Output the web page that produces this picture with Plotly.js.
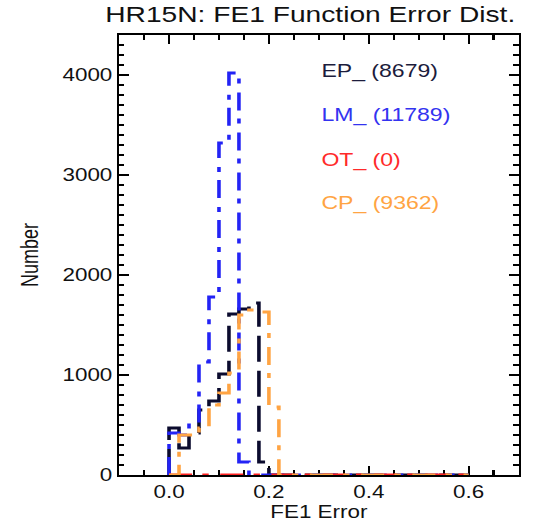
<!DOCTYPE html>
<html>
<head>
<meta charset="utf-8">
<script src="https://cdn.plot.ly/plotly-3.0.1.min.js"></script>
<style>
  html, body { margin: 0; padding: 0; background: #fff; overflow: hidden; }
  #wrap { width: 557px; height: 527px; overflow: hidden; }
  #chart { width: 435px; height: 527px; transform: scaleX(1.2805); transform-origin: 0 0; }
</style>
</head>
<body>
<div id="wrap"><div id="chart"></div></div>
<script>
// Bin edges (FE1 Error), bin width 0.02
const binEdges = [0.00,0.02,0.04,0.06,0.08,0.10,0.12,0.14,0.16,0.18,0.20,0.22,0.24,0.26,0.28,0.30,
                  0.32,0.34,0.36,0.38,0.40,0.42,0.44,0.46,0.48,0.50,0.52,0.54,0.56,0.58,0.60];
// Counts per bin (30 bins)
const epCounts = [470,270,420,650,740,1010,1610,1660,1720,130,0,0,0,0,0,0,0,0,0,0,0,0,0,0,0,0,0,0,0,0];
const lmCounts = [420,400,540,1130,1780,3320,4020,130,0,0,0,0,0,0,0,0,0,0,0,0,0,0,0,0,0,0,0,0,0,0];
const otCounts = [0,0,0,0,0,0,0,0,0,0,0,0,0,0,0,0,0,0,0,0,0,0,0,0,0,0,0,0,0,0];
const cpCounts = [0,400,400,470,700,820,1020,1600,1650,1630,680,0,0,0,0,0,0,0,0,0,0,0,0,0,0,0,0,0,0,0];

const seriesNames = ['EP_ (8679)', 'LM_ (11789)', 'OT_ (0)', 'CP_ (9362)'];
const xTickVals = [0.0, 0.2, 0.4, 0.6];
const xTickText = ['0.0', '0.2', '0.4', '0.6'];

const lineColors = ['#0b0b2e', '#2323f5', '#ff2222', '#ffa443'];
const textColors = ['#1c1c3c', '#3333f0', '#ff2a2a', '#ffa443'];
const dashes = ['26px,9px', '18px,8px,5px,9px', '18px,8px,5px,9px', '18px,8px,5px,9px'];
const allCounts = [epCounts, lmCounts, otCounts, cpCounts];

function stepTrace(counts, color, dash, name) {
  const xs = [binEdges[0]];
  const ys = [0];
  for (let i = 0; i < counts.length; i++) {
    xs.push(binEdges[i]);
    ys.push(counts[i]);
  }
  xs.push(binEdges[binEdges.length - 1]);
  ys.push(counts[counts.length - 1]);
  return {
    x: xs, y: ys, type: 'scatter', mode: 'lines', name: name,
    line: { shape: 'hv', color: color, width: 2.8, dash: dash },
    hoverinfo: 'skip', showlegend: false
  };
}

const traces = allCounts.map((c, i) => stepTrace(c, lineColors[i], dashes[i], seriesNames[i]));

const font = 'Liberation Sans, Arial, Helvetica, sans-serif';
const legendY = [0.917, 0.818, 0.715, 0.617];
const annotations = seriesNames.map((n, i) => ({
  text: n, xref: 'paper', yref: 'paper', x: 0.499, y: legendY[i],
  xanchor: 'left', yanchor: 'middle', showarrow: false,
  font: { family: font, size: 18, color: textColors[i] }
}));

const layout = {
  width: 435, height: 527,
  margin: { l: 93, r: 30, t: 35, b: 52 },
  paper_bgcolor: '#fff', plot_bgcolor: '#fff',
  title: { text: 'HR15N: FE1 Function Error Dist.', font: { family: font, size: 22, color: '#111' },
           x: 0.557, xref: 'container', xanchor: 'center', y: 0.972, yref: 'container', yanchor: 'middle' },
  xaxis: {
    range: [-0.1, 0.7], tickvals: xTickVals, ticktext: xTickText,
    ticks: 'inside', ticklen: 9, tickwidth: 1.8, tickcolor: '#000',
    minor: { dtick: 0.05, tick0: 0, ticks: 'inside', ticklen: 5, tickwidth: 1.8, tickcolor: '#000' },
    showline: true, linecolor: '#000', linewidth: 2, mirror: 'allticks',
    showgrid: false, zeroline: false, layer: 'below traces',
    tickfont: { family: font, size: 17.5, color: '#111' },
    title: { text: 'FE1 Error', font: { family: font, size: 17.5, color: '#111' }, standoff: 5 }
  },
  yaxis: {
    range: [0, 4400], dtick: 1000, tick0: 0,
    ticks: 'inside', ticklen: 7.8, tickwidth: 2, tickcolor: '#000',
    minor: { dtick: 100, tick0: 0, ticks: 'inside', ticklen: 4, tickwidth: 2, tickcolor: '#000' },
    showline: true, linecolor: '#000', linewidth: 1.8, mirror: 'allticks',
    showgrid: false, zeroline: false, layer: 'below traces',
    tickfont: { family: font, size: 17.5, color: '#111' },
    title: { text: 'Number', font: { family: font, size: 18, color: '#111' }, standoff: 14 }
  },
  annotations: annotations,
  showlegend: false
};

Plotly.newPlot('chart', traces, layout, { displayModeBar: false, staticPlot: true });
</script>
</body>
</html>
